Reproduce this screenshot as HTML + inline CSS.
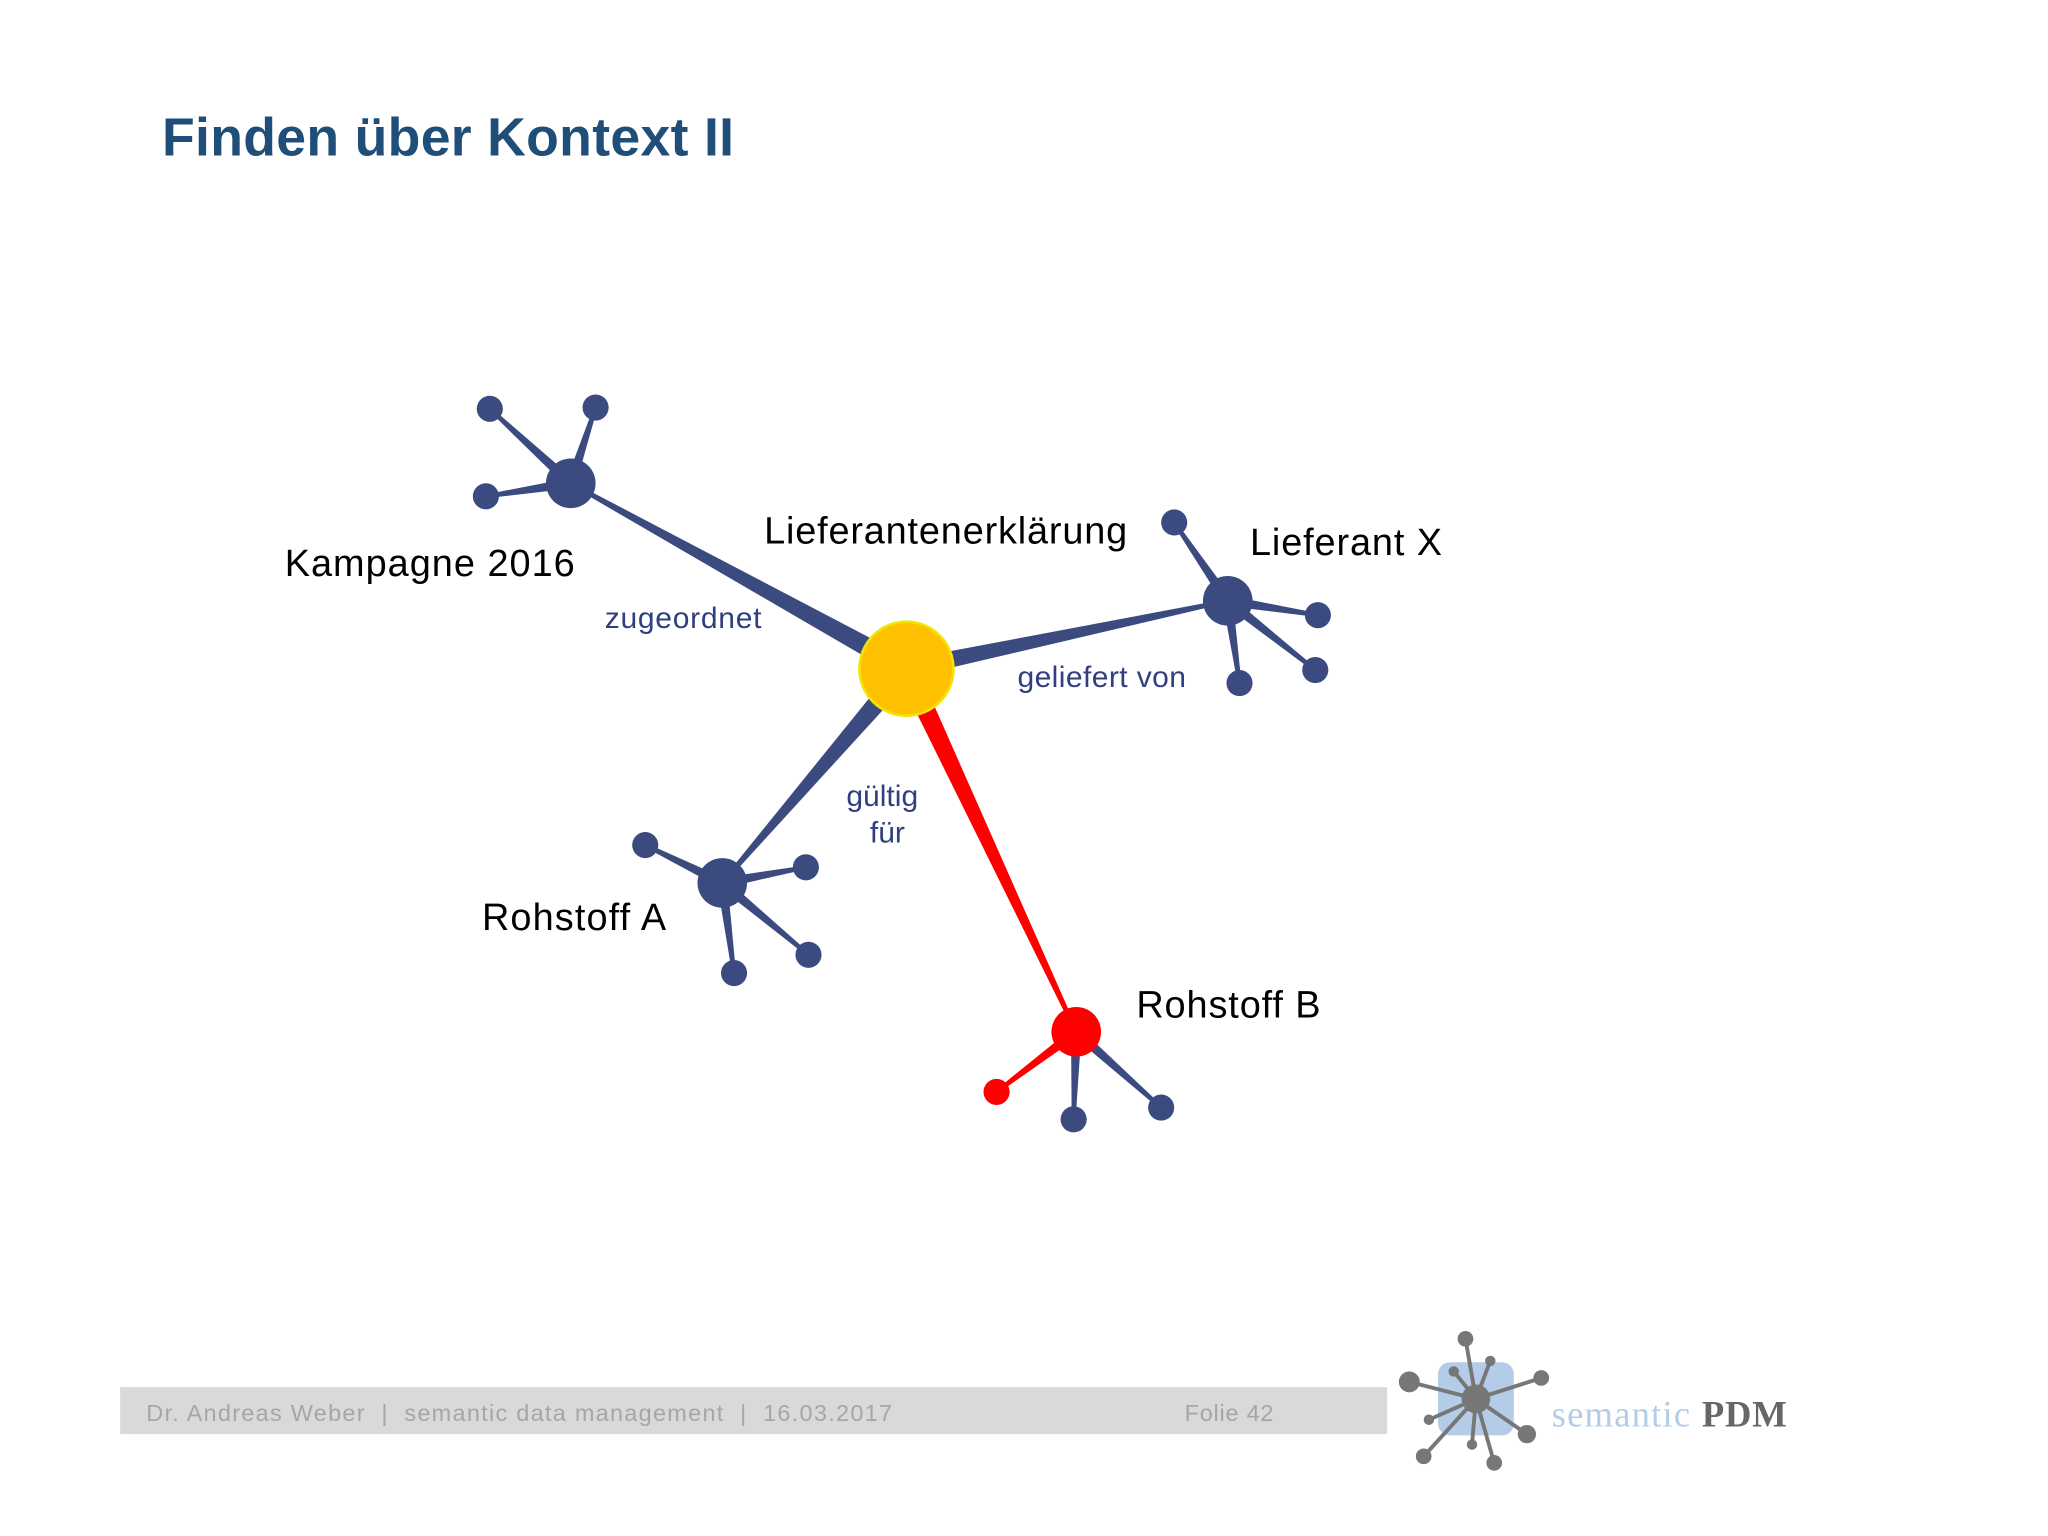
<!DOCTYPE html>
<html><head><meta charset="utf-8"><style>
body{margin:0;background:#fff}
svg{display:block}
text{font-family:"Liberation Sans",sans-serif}
text.serif{font-family:"Liberation Serif",serif}
</style></head><body>
<svg id="s" width="2048" height="1536" viewBox="0 0 1568 1176" xmlns="http://www.w3.org/2000/svg">
<rect width="1568" height="1176" fill="#fff"/>
<text x="124" y="119" font-size="41" font-weight="bold" fill="#1f4e79" textLength="438">Finden über Kontext II</text>
<g id="edges"></g>
<g id="nodes"></g>
<g font-size="29" fill="#000">
<text x="218" y="441" textLength="222">Kampagne 2016</text>
<text x="585" y="416" textLength="278">Lieferantenerklärung</text>
<text x="957" y="425" textLength="147">Lieferant X</text>
<text x="369" y="712" textLength="141">Rohstoff A</text>
<text x="870" y="779" textLength="141">Rohstoff B</text>
</g>
<g font-size="23" fill="#2f3f7f">
<text x="463" y="481" textLength="120">zugeordnet</text>
<text x="779" y="526" textLength="129">geliefert von</text>
<text x="648" y="617">gültig</text>
<text x="666" y="645">für</text>
</g>
<rect x="92" y="1062" width="970" height="36" fill="#d9d9d9"/>
<text x="112" y="1088" font-size="18" fill="#a6a6a6" textLength="571">Dr. Andreas Weber &#160;| &#160;semantic data management &#160;| &#160;16.03.2017</text>
<text x="907" y="1088" font-size="18" fill="#a6a6a6" textLength="68">Folie 42</text>
<g>
<rect x="1101" y="1043" width="58" height="56" rx="9" fill="#b4cce8"/>
<g stroke="#777" stroke-width="3">
<line x1="1130" y1="1071" x2="1079" y2="1058"/><line x1="1130" y1="1071" x2="1122" y2="1025"/>
<line x1="1130" y1="1071" x2="1180" y2="1055"/><line x1="1130" y1="1071" x2="1169" y2="1098"/>
<line x1="1130" y1="1071" x2="1144" y2="1120"/><line x1="1130" y1="1071" x2="1090" y2="1115"/>
<line x1="1130" y1="1071" x2="1094" y2="1087"/><line x1="1130" y1="1071" x2="1127" y2="1106"/>
<line x1="1130" y1="1071" x2="1113" y2="1050"/><line x1="1130" y1="1071" x2="1141" y2="1042"/>
</g>
<g fill="#777">
<circle cx="1130" cy="1071" r="11"/><circle cx="1079" cy="1058" r="8"/><circle cx="1122" cy="1025" r="6"/>
<circle cx="1180" cy="1055" r="6"/><circle cx="1169" cy="1098" r="7"/><circle cx="1144" cy="1120" r="6"/>
<circle cx="1090" cy="1115" r="6"/><circle cx="1094" cy="1087" r="4"/><circle cx="1127" cy="1106" r="4"/>
<circle cx="1113" cy="1050" r="4"/><circle cx="1141" cy="1042" r="4"/>
</g>
<text class="serif" x="1188" y="1092" font-size="28" fill="#b4cce8" textLength="106">semantic</text>
<text class="serif" x="1303" y="1092" font-size="28" font-weight="bold" fill="#666" textLength="65">PDM</text>
</g>
</svg>
<script>
const nodeNames=["center","kampagne","k1","k2","k3","lieferantX","l1","l2","l3","l4","rohstoffA","a1","a2","a3","a4","rohstoffB","b1","b2","b3"];
const nodeX=[694,437,375,456,372,940,899,1009,1007,949,553,494,617,619,562,824,763,822,889];
const nodeY=[512,370,313,312,380,460,400,471,513,523,676,647,664,731,745,790,836,857,848];
const nodeR=[36,19,10,10,10,19,10,10,10,10,19,10,10,10,10,19,10,10,10];
const nodeColor=["#ffc000","#3b4b80","#3b4b80","#3b4b80","#3b4b80","#3b4b80","#3b4b80","#3b4b80","#3b4b80","#3b4b80","#3b4b80","#3b4b80","#3b4b80","#3b4b80","#3b4b80","#ff0000","#ff0000","#3b4b80","#3b4b80"];
const edgeFrom=[0,0,0,0,1,1,1,5,5,5,5,10,10,10,10,15,15,15];
const edgeTo=[1,5,10,15,2,3,4,6,7,8,9,11,12,13,14,16,17,18];
const edgeW0=[16,14,16,16,8,8,8,8,8,8,8,8,8,8,8,8,8,8];
const edgeW1=[3,3,3,3,3,3,3,3,3,3,3,3,3,3,3,3,3,3];
const edgeColor=["#3b4b80","#3b4b80","#3b4b80","#ff0000","#3b4b80","#3b4b80","#3b4b80","#3b4b80","#3b4b80","#3b4b80","#3b4b80","#3b4b80","#3b4b80","#3b4b80","#3b4b80","#ff0000","#3b4b80","#3b4b80"];
const NS="http://www.w3.org/2000/svg";
const eg=document.getElementById('edges'),ng=document.getElementById('nodes');
edgeFrom.forEach((f,i)=>{
  const t=edgeTo[i],x0=nodeX[f],y0=nodeY[f],x1=nodeX[t],y1=nodeY[t];
  const dx=x1-x0,dy=y1-y0,L=Math.hypot(dx,dy),nx=-dy/L,ny=dx/L;
  const a=edgeW0[i]/2,b=edgeW1[i]/2;
  const p=document.createElementNS(NS,'polygon');
  p.setAttribute('points',[[x0+nx*a,y0+ny*a],[x1+nx*b,y1+ny*b],[x1-nx*b,y1-ny*b],[x0-nx*a,y0-ny*a]].map(q=>q.join(',')).join(' '));
  p.setAttribute('fill',edgeColor[i]);
  
  
  eg.appendChild(p);
});
nodeNames.forEach((n,i)=>{
  const c=document.createElementNS(NS,'circle');
  c.setAttribute('cx',nodeX[i]);c.setAttribute('cy',nodeY[i]);c.setAttribute('r',nodeR[i]);
  c.setAttribute('fill',nodeColor[i]);
  if(i===0){c.setAttribute('stroke','#f2e600');c.setAttribute('stroke-width','2');}
  
  
  ng.appendChild(c);
});
</script>
</body></html>
